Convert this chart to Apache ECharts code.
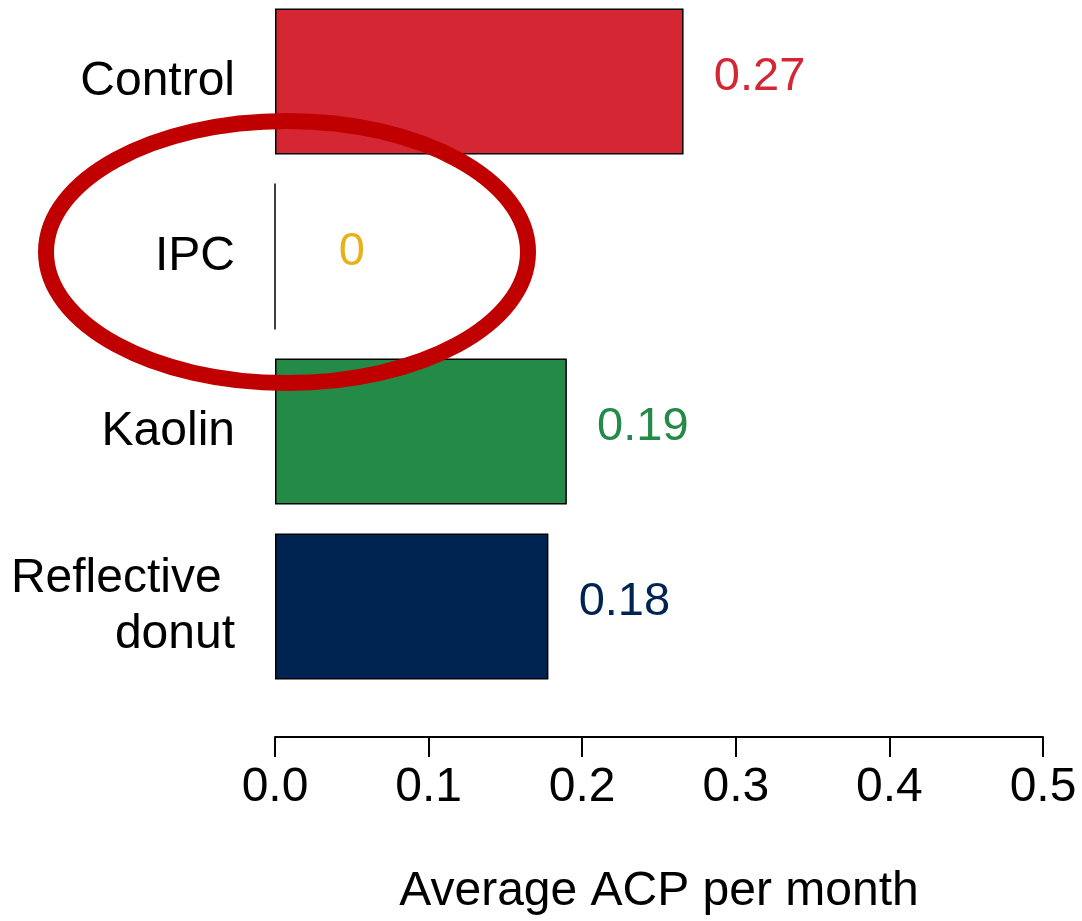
<!DOCTYPE html>
<html>
<head>
<meta charset="utf-8">
<script src="https://cdn.jsdelivr.net/npm/echarts@6/dist/echarts.min.js"></script>
<style>
html,body{margin:0;padding:0;background:#fff;}
#chart{width:1082px;height:921px;}
</style>
</head>
<body>
<div id="chart"></div>
<script>
// Data
const categories = ['Control', 'IPC', 'Kaolin', 'Reflective \ndonut'];
const values = [0.266, 0, 0.19, 0.178];
const valueLabels = ['0.27', '0', '0.19', '0.18'];
const xTicks = [0.0, 0.1, 0.2, 0.3, 0.4, 0.5];
const axisTitle = 'Average ACP per month';

// Styles
const barColors = ['#d42733', '#e8b11c', '#238a48', '#002452'];
const FONT = '"Liberation Sans", Arial, sans-serif';

const chart = echarts.init(document.getElementById('chart'));
chart.setOption({
  animation: false,
  backgroundColor: '#ffffff',
  grid: { left: 275, right: 39, top: -6, height: 700, containLabel: false, outerBoundsMode: 'none' },
  xAxis: {
    type: 'value',
    min: xTicks[0],
    max: xTicks[xTicks.length - 1],
    interval: 0.1,
    offset: 43,
    name: axisTitle,
    nameLocation: 'middle',
    nameGap: 131,
    nameTextStyle: { fontFamily: FONT, fontSize: 48, color: '#000' },
    axisLine: { show: true, lineStyle: { color: '#000', width: 2 } },
    axisTick: { show: true, length: 20, inside: false, lineStyle: { color: '#000', width: 2 } },
    axisLabel: {
      margin: 27,
      fontFamily: FONT, fontSize: 48, color: '#000',
      formatter: v => v.toFixed(1)
    },
    splitLine: { show: false }
  },
  yAxis: {
    type: 'category',
    inverse: true,
    data: categories,
    axisLine: { show: false },
    axisTick: { show: false },
    axisLabel: {
      margin: 40,
      fontFamily: FONT, fontSize: 48, color: '#000',
      lineHeight: 56, align: 'right',
      padding: [6, 0, 0, 0]
    }
  },
  series: [{
    type: 'bar',
    barCategoryGap: '16.5%',
    data: values.map((v, i) => ({
      value: v,
      itemStyle: { color: barColors[i], borderColor: '#000', borderWidth: 1.5 },
      label: { color: barColors[i], formatter: valueLabels[i] }
    })),
    label: {
      show: true,
      position: 'right',
      distance: 76,
      align: 'center',
      offset: [0, -4],
      fontFamily: FONT,
      fontSize: 47
    }
  }],
  graphic: [{
    type: 'ellipse',
    shape: { cx: 287, cy: 252, rx: 241, ry: 131 },
    style: { fill: 'none', stroke: '#c00000', lineWidth: 16 },
    z: 100
  }]
});
</script>
</body>
</html>
